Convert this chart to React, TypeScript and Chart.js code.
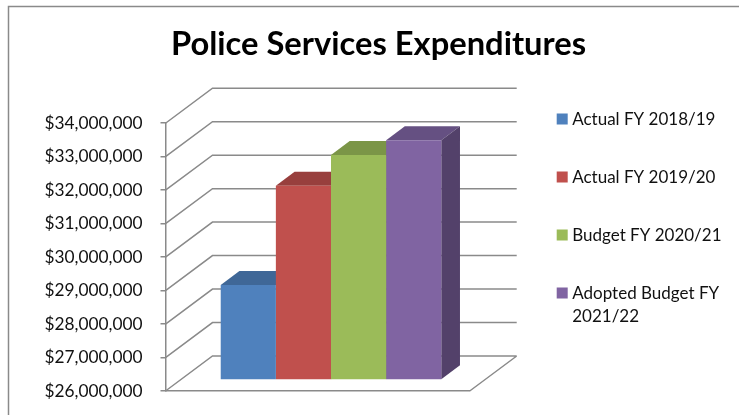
import React, { useEffect, useRef } from "react";
import { Chart, registerables } from "chart.js";

Chart.register(...registerables);

const CATEGORY_LABELS = [""];
const SERIES_LABELS: (string | string[])[] = [
  "Actual FY 2018/19",
  "Actual FY 2019/20",
  "Budget FY 2020/21",
  ["Adopted Budget FY", "2021/22"],
];
const SERIES_VALUES = [28840000, 31800000, 32720000, 33160000];
const FRONT_COLORS = ["#4F81BD", "#C0504D", "#9BBB59", "#8064A2"];
const TOP_COLORS = ["#3F6797", "#983F3D", "#7B9547", "#655082"];
const SIDE_COLORS = ["#3A5F8B", "#7F3533", "#677C3B", "#53416A"];
const Y_MIN = 26000000;
const Y_MAX = 34000000;
const Y_STEP = 1000000;

const FONT = "Lato, Carlito, sans-serif";
const AXIS_COLOR = "#8A8A8A";
const LINE_WIDTH = 1.5;
const WALL_DX = 47;
const WALL_DY = -35;
const BAR_DX = 13.4;
const BAR_DY = -11;
const BAR_DEPTH_X = 18.7;
const BAR_DEPTH_Y = -14;
const LEGEND_SHIFT_X = -0.5;
const LEGEND_SHIFT_Y = 26;

const currency = (v: number) => "$" + Math.round(v).toLocaleString("en-US");

// Outer frame of the chart object; it runs off the right and bottom of the page.
const framePlugin = {
  id: "frame",
  beforeDraw(chart: any) {
    const { ctx, width, height } = chart;
    ctx.save();
    ctx.strokeStyle = AXIS_COLOR;
    ctx.lineWidth = LINE_WIDTH;
    ctx.beginPath();
    ctx.moveTo(8.5, height + 2);
    ctx.lineTo(8.5, 6.5);
    ctx.lineTo(width + 2, 6.5);
    ctx.stroke();
    ctx.restore();
  },
};

// Nudges the legend block after layout so it sits beside the upper part of the plot.
const legendOffsetPlugin = {
  id: "legendOffset",
  afterLayout(chart: any) {
    const lg = chart.legend;
    lg.left += LEGEND_SHIFT_X;
    lg.right += LEGEND_SHIFT_X;
    lg.top += LEGEND_SHIFT_Y;
    lg.bottom += LEGEND_SHIFT_Y;
  },
};

// Receding gridlines on the back wall and the floor, derived from the value scale.
const wallsPlugin = {
  id: "walls",
  beforeDatasetsDraw(chart: any) {
    const { ctx, chartArea, scales } = chart;
    const { left, right } = chartArea;
    const y = scales.y;
    ctx.save();
    ctx.strokeStyle = AXIS_COLOR;
    ctx.lineWidth = LINE_WIDTH;
    ctx.beginPath();
    y.ticks.forEach((t: any) => {
      const py = y.getPixelForValue(t.value);
      ctx.moveTo(left, py);
      ctx.lineTo(left + WALL_DX, py + WALL_DY);
      ctx.lineTo(right + WALL_DX, py + WALL_DY);
    });
    const floorY = y.getPixelForValue(Y_MIN);
    ctx.moveTo(right, floorY);
    ctx.lineTo(right + WALL_DX, floorY + WALL_DY);
    ctx.stroke();
    ctx.restore();
  },
};

// Extrudes the bars: top and side faces go down first, left to right, and the
// library's own front faces are then painted over them, pushed into the box.
const extrudePlugin = {
  id: "extrude",
  beforeDatasetsDraw(chart: any) {
    const { ctx } = chart;
    ctx.save();
    ctx.translate(BAR_DX, BAR_DY);
    SERIES_VALUES.forEach((_, i) => {
      chart.getDatasetMeta(i).data.forEach((bar: any) => {
        const l = bar.x - bar.width / 2;
        const r = bar.x + bar.width / 2;
        const t = bar.y;
        const b = bar.base;
        ctx.fillStyle = TOP_COLORS[i];
        ctx.beginPath();
        ctx.moveTo(l, t);
        ctx.lineTo(l + BAR_DEPTH_X, t + BAR_DEPTH_Y);
        ctx.lineTo(r + BAR_DEPTH_X, t + BAR_DEPTH_Y);
        ctx.lineTo(r, t);
        ctx.closePath();
        ctx.fill();
        ctx.fillStyle = SIDE_COLORS[i];
        ctx.beginPath();
        ctx.moveTo(r, t);
        ctx.lineTo(r + BAR_DEPTH_X, t + BAR_DEPTH_Y);
        ctx.lineTo(r + BAR_DEPTH_X, b + BAR_DEPTH_Y);
        ctx.lineTo(r, b);
        ctx.closePath();
        ctx.fill();
      });
    });
    ctx.restore();
  },
  beforeDatasetDraw(chart: any) {
    chart.ctx.save();
    chart.ctx.translate(BAR_DX, BAR_DY);
  },
  afterDatasetDraw(chart: any) {
    chart.ctx.restore();
  },
};

export default function App() {
  const ref = useRef<HTMLCanvasElement>(null);

  useEffect(() => {
    document.body.style.margin = "0";
    const chart = new Chart(ref.current!, {
      type: "bar",
      data: {
        labels: CATEGORY_LABELS,
        datasets: SERIES_VALUES.map((v, i) => ({
          label: SERIES_LABELS[i] as any,
          data: [v],
          base: Y_MIN,
          backgroundColor: FRONT_COLORS[i],
          borderWidth: 0,
          clip: false as any,
          categoryPercentage: 0.725,
          barPercentage: 1,
        })),
      },
      options: {
        animation: false,
        responsive: false,
        layout: { padding: { top: 0, right: 7, bottom: 24, left: 25 } },
        scales: {
          x: {
            grid: { display: false },
            ticks: { display: false },
            border: { color: AXIS_COLOR, width: LINE_WIDTH },
            afterFit(s: any) {
              s.height = 0;
            },
          },
          y: {
            min: Y_MIN,
            max: Y_MAX,
            afterFit(s: any) {
              s.width = 140.5;
              s.paddingTop = 0;
              s.paddingBottom = 0;
            },
            ticks: {
              stepSize: Y_STEP,
              callback: (v: any) => currency(Number(v)),
              color: "#111111",
              padding: 18,
              font: { family: FONT, size: 17.3 },
            },
            grid: { drawOnChartArea: false, tickLength: 5, color: AXIS_COLOR, lineWidth: LINE_WIDTH },
            border: { color: AXIS_COLOR, width: LINE_WIDTH },
          },
          // Empty gutter on the right that the receding walls occupy.
          depth: {
            type: "linear",
            position: "right",
            grid: { display: false },
            ticks: { display: false },
            border: { display: false },
            afterFit(s: any) {
              s.width = 50.5;
            },
          } as any,
        },
        plugins: {
          title: {
            display: true,
            text: "Police Services Expenditures",
            color: "#000000",
            font: { family: FONT, size: 32.7, weight: "bold" },
            padding: { top: 25, bottom: 59 },
          },
          legend: {
            position: "right",
            maxWidth: 223,
            labels: {
              usePointStyle: true,
              pointStyle: "rect",
              boxWidth: 3,
              boxHeight: 11,
              padding: 41,
              color: "#111111",
              font: { family: FONT, size: 17, lineHeight: 1.41 },
            },
          },
          tooltip: { enabled: false },
        },
      },
      plugins: [framePlugin, legendOffsetPlugin, wallsPlugin, extrudePlugin],
    } as any);
    return () => chart.destroy();
  }, []);

  return <canvas ref={ref} width={739} height={415} style={{ display: "block" }} />;
}
